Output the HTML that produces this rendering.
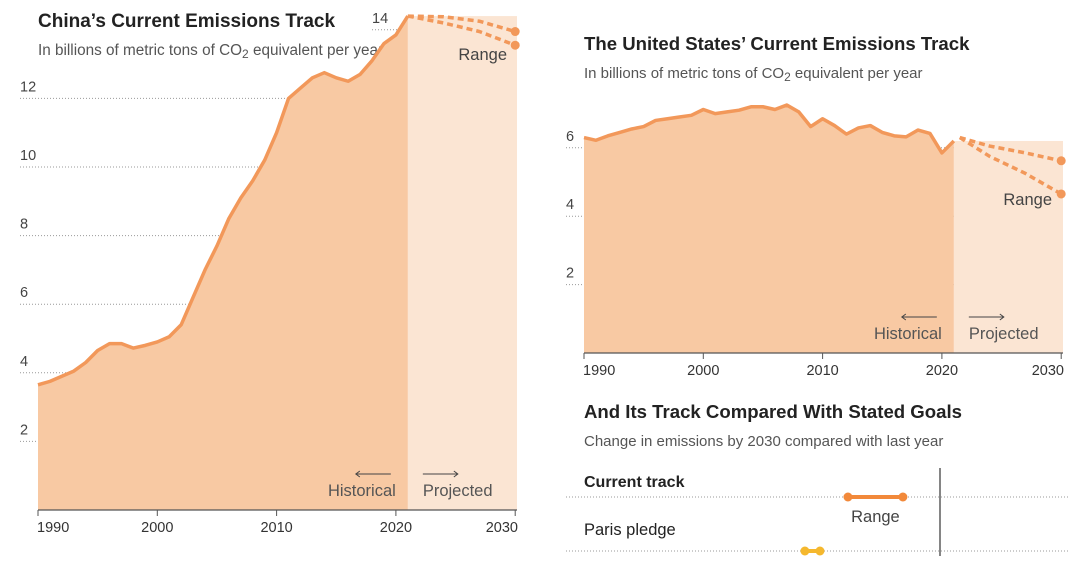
<!DOCTYPE html>
<html><head><meta charset="utf-8"><style>
body{margin:0;background:#fff;font-family:"Liberation Sans",Arial,sans-serif;}
svg text{font-family:"Liberation Sans",Arial,sans-serif;}
</style></head><body>
<svg id="c" width="1072" height="556" viewBox="0 0 1072 556">
<text x="38" y="27" font-size="19" font-weight="bold" fill="#222">China’s Current Emissions Track</text>
<text x="38" y="55" font-size="15.3" fill="#555">In billions of metric tons of CO<tspan font-size="12" dy="3">2</tspan><tspan dy="-3"> equivalent per year</tspan></text>
<text x="584" y="50" font-size="18.6" font-weight="bold" fill="#222">The United States’ Current Emissions Track</text>
<text x="584" y="78" font-size="15" fill="#555">In billions of metric tons of CO<tspan font-size="12" dy="3">2</tspan><tspan dy="-3"> equivalent per year</tspan></text>
<text x="584" y="418" font-size="18.6" font-weight="bold" fill="#222">And Its Track Compared With Stated Goals</text>
<text x="584" y="446" font-size="15" fill="#555">Change in emissions by 2030 compared with last year</text>
<g id="g"></g>
</svg>
<script>
const years=[1990,1991,1992,1993,1994,1995,1996,1997,1998,1999,2000,2001,2002,2003,2004,2005,2006,2007,2008,2009,2010,2011,2012,2013,2014,2015,2016,2017,2018,2019,2020,2021];
const chinaVals=[3.65,3.75,3.9,4.05,4.3,4.65,4.85,4.85,4.72,4.8,4.9,5.05,5.4,6.2,7.0,7.7,8.5,9.1,9.6,10.2,11.0,12.0,12.3,12.6,12.75,12.6,12.5,12.7,13.1,13.6,13.85,14.4];
const chinaProjYears=[2021,2024,2027,2030];
const chinaHigh=[14.4,14.38,14.25,13.95];
const chinaLow=[14.4,14.2,13.95,13.55];
const chinaTicks=[2,4,6,8,10,12,14];
const usVals=[6.3,6.22,6.35,6.45,6.55,6.62,6.8,6.85,6.9,6.95,7.12,7.0,7.05,7.1,7.2,7.2,7.12,7.25,7.05,6.62,6.85,6.65,6.4,6.58,6.65,6.45,6.35,6.32,6.52,6.42,5.85,6.2];
const usProjYears=[2021.5,2024,2027,2030];
const usHigh=[6.3,6.05,5.85,5.62];
const usLow=[6.3,5.75,5.25,4.65];
const usTicks=[2,4,6];
const xTicks=[1990,2000,2010,2020,2030];
const goalRows=["Current track","Paris pledge"];
const goalLow=[-26.3,-38.6];
const goalHigh=[-10.6,-34.3];
const NS="http://www.w3.org/2000/svg";
const G=document.getElementById('g');
function el(t,a,p){const e=document.createElementNS(NS,t);for(const k in a)e.setAttribute(k,a[k]);(p||G).appendChild(e);return e;}
function chart(o){
  const X=y=>o.x0+(y-1990)*o.px, Y=v=>o.base-v*o.py;
  const gg=el('g',{});
  
  
  o.ticks.forEach(t=>{
    const top=(o.name==='china'&&t===14);
    const l=el('line',{x1:top?372:o.gx,x2:o.gx2,y1:Y(t),y2:Y(t),stroke:'#999','stroke-width':1,'stroke-dasharray':'1 2'},gg);
    
    
    const tx=el('text',{x:top?372:o.lx,y:Y(t)-7,'font-size':14.5,fill:'#444'},gg);tx.textContent=t;
    
    
  });
  const xe=X(2021), xr=o.right;
  const pr=el('rect',{x:xe,y:Y(o.vals[o.vals.length-1]),width:xr-xe,height:o.base-Y(o.vals[o.vals.length-1]),fill:'#fbe5d3'},gg);
  
  
  let d='M'+X(1990)+','+o.base;
  years.forEach((y,i)=>d+=' L'+X(y)+','+Y(o.vals[i]));
  d+=' L'+xe+','+o.base+'Z';
  const a=el('path',{d:d,fill:'#f8c9a3'},gg);
  
  
  const ln=el('polyline',{points:years.map((y,i)=>X(y)+','+Y(o.vals[i])).join(' '),fill:'none',stroke:'#f2985a','stroke-width':3.5,'stroke-linejoin':'round'},gg);
  
  
  [o.hi,o.lo].forEach((s,k)=>{
    const pts=o.py2.map((y,i)=>[X(y),Y(s[i])]);
    const p=el('polyline',{points:pts.map(q=>q.join(',')).join(' '),fill:'none',stroke:'#f2985a','stroke-width':3.5,'stroke-dasharray':'6 4'},gg);
    
    
    const c=el('circle',{cx:pts[pts.length-1][0],cy:pts[pts.length-1][1],r:4.5,fill:'#f2985a'},gg);
    
    
  });
  const ax=el('line',{x1:X(1990),x2:xr,y1:o.base,y2:o.base,stroke:'#555','stroke-width':1.2},gg);
  
  
  xTicks.forEach(t=>{
    const tk=el('line',{x1:X(t),x2:X(t),y1:o.base,y2:o.base+6,stroke:'#555'},gg);
    
    
    const an=t==1990?'start':(t==2030?'end':'middle');
    const tx=el('text',{x:t==1990?X(t)-1:(t==2030?xr+1:X(t)),y:o.base+22,'font-size':14.5,fill:'#333','text-anchor':an},gg);tx.textContent=t;
    
    
  });
  const lb=[['Historical',xe-12,'end'],['Projected',xe+15,'start']];
  lb.forEach(([s,x,an],i)=>{
    const t=el('text',{x:x,y:o.base-14,'font-size':16.5,fill:'#555','text-anchor':an},gg);t.textContent=s;
    
    
    const ay=o.base-36;
    const ar=i?el('path',{d:`M${xe+15},${ay} h35 m-4,-3 l4,3 l-4,3`,stroke:'#444',fill:'none','stroke-width':1},gg)
             :el('path',{d:`M${xe-17},${ay} h-35 m4,-3 l-4,3 l4,3`,stroke:'#444',fill:'none','stroke-width':1},gg);
    
    
  });
  const r=el('text',{x:o.rx,y:o.ry,'font-size':16.5,fill:'#444','text-anchor':'end'},gg);r.textContent='Range';
  
  
}
chart({name:'china',vals:chinaVals,hi:chinaHigh,lo:chinaLow,py2:chinaProjYears,ticks:chinaTicks,x0:38,px:11.93,base:510,py:34.3,gx:20,gx2:400,lx:20,right:517,rx:507,ry:60});
chart({name:'us',vals:usVals,hi:usHigh,lo:usLow,py2:usProjYears,ticks:usTicks,x0:584,px:11.93,base:353,py:34.2,gx:566,gx2:1062,lx:566,right:1063,rx:1052,ry:205});
// goals section
const GX=v=>940+v*3.5;
const vl=el('line',{x1:940,x2:940,y1:468,y2:556,stroke:'#333','stroke-width':1.2});


const rowY=[497,551],labY=[487,535],cols=['#f2893a','#f5b82e'];
goalRows.forEach((r,i)=>{
  const l=el('line',{x1:566,x2:1070,y1:rowY[i],y2:rowY[i],stroke:'#999','stroke-dasharray':'1 2'});
  
  
  const t=el('text',{x:584,y:labY[i],'font-size':i?16.5:16,'font-weight':i?'normal':'bold',fill:'#222'});t.textContent=r;
  
  
  const b=el('line',{x1:GX(goalLow[i]),x2:GX(goalHigh[i]),y1:rowY[i],y2:rowY[i],stroke:cols[i],'stroke-width':4});
  
  
  [goalLow[i],goalHigh[i]].forEach(v=>{
    const c=el('circle',{cx:GX(v),cy:rowY[i],r:4.5,fill:cols[i]});
    
    
  });
});
const rl=el('text',{x:(GX(goalLow[0])+GX(goalHigh[0]))/2,y:522,'font-size':16.5,fill:'#444','text-anchor':'middle'});rl.textContent='Range';


</script>
</body></html>
